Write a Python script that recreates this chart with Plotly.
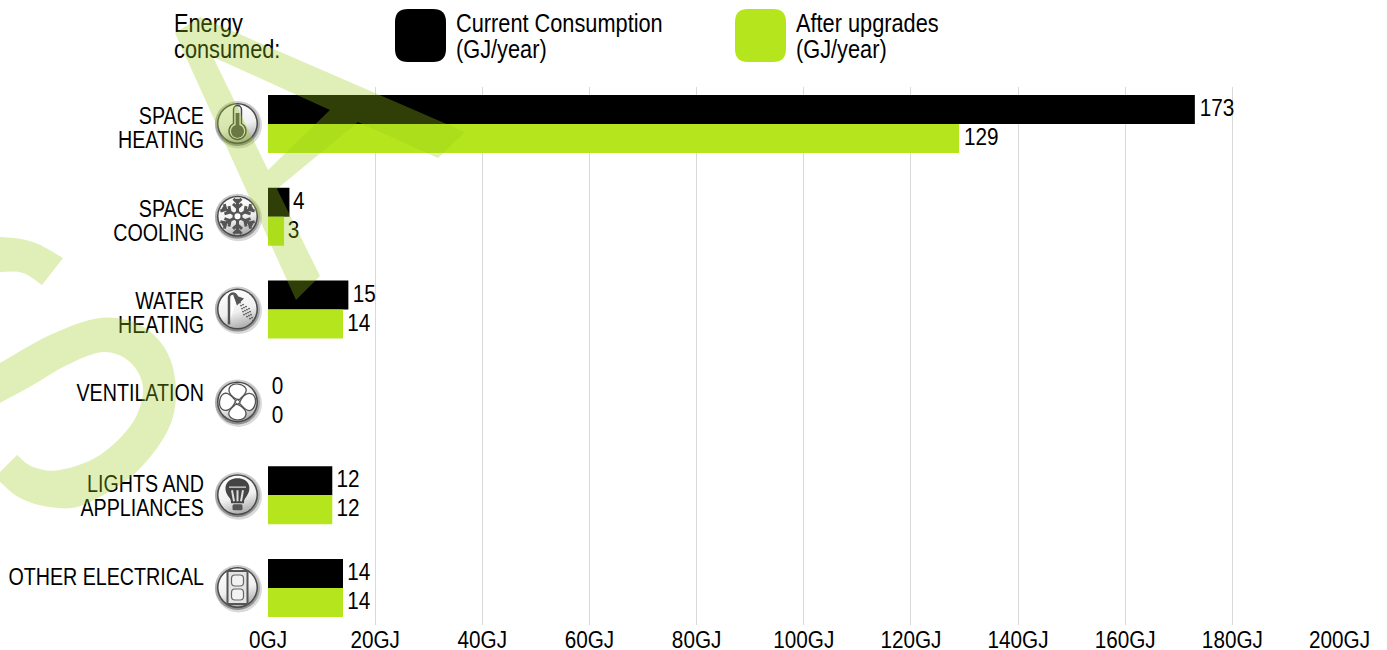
import base64
import plotly.graph_objects as go

# ---------- data ----------
categories = [["SPACE", "HEATING"], ["SPACE", "COOLING"], ["WATER", "HEATING"],
              ["VENTILATION"], ["LIGHTS AND", "APPLIANCES"], ["OTHER ELECTRICAL"]]
current = [173, 4, 15, 0, 12, 14]
upgraded = [129, 3, 14, 0, 12, 14]
series_names = ["Current Consumption", "After upgrades"]
x_ticks = list(range(0, 201, 20))
x_tick_labels = [f"{v}GJ" for v in x_ticks]

W, H = 1387, 650
PLOT_L, PLOT_R, PLOT_T, PLOT_B = 268, 1339.5, 87, 625
CAT_TOP, CAT_STEP = 124, 92.8
FONT = "Liberation Sans, Arial, sans-serif"
BLACK, LIME = "#000000", "#b5e61d"
WM = "rgba(155,203,26,0.31)"
label_shift_px = [4, 3.7, 3.4, -9, 0.6, -11]

ypos = list(range(len(categories)))
y_tickvals, y_ticktext = [], []
line_gap = 24 / CAT_STEP
for i, lines in enumerate(categories):
    offs = [-0.5, 0.5] if len(lines) == 2 else [0]
    for o, t in zip(offs, lines):
        y_tickvals.append(i + o * line_gap + label_shift_px[i] / CAT_STEP)
        y_ticktext.append(t)

fig = go.Figure()
for name, vals, col in [(series_names[0], current, BLACK), (series_names[1], upgraded, LIME)]:
    fig.add_bar(y=ypos, x=vals, orientation="h", name=name, marker=dict(color=col, line_width=0),
                text=[str(v) for v in vals], textposition="outside", cliponaxis=False,
                textfont=dict(family=FONT, size=23, color="#000"), showlegend=False, hoverinfo="skip")

# legend text in a full-page pixel subplot, so the watermark sits over it
leg_x = [174, 174, 456, 456, 796, 796]
leg_y = [26, 52, 26, 52, 26, 52]
leg_t = ["Energy", "consumed:", series_names[0], "(GJ/year)", series_names[1], "(GJ/year)"]
fig.add_scatter(x=leg_x, y=leg_y, text=leg_t, mode="text", textposition="middle right",
                textfont=dict(family=FONT, size=25, color="#000"), xaxis="x2", yaxis="y2",
                cliponaxis=False, showlegend=False, hoverinfo="skip")

fig.update_layout(
    width=W, height=H, autosize=False, margin=dict(l=0, r=0, t=0, b=0),
    paper_bgcolor="white", plot_bgcolor="rgba(0,0,0,0)", barmode="group", bargap=0.375, bargroupgap=0,
    xaxis=dict(domain=[PLOT_L / W, PLOT_R / W], range=[0, 200], tickvals=x_ticks, ticktext=x_tick_labels,
               showgrid=True, gridcolor="#d9d9d9", gridwidth=1, zeroline=False, ticks="", showline=False,
               tickfont=dict(family=FONT, size=23, color="#000"), automargin=False, ticklabelstandoff=0),
    yaxis=dict(domain=[1 - PLOT_B / H, 1 - PLOT_T / H],
               range=[(PLOT_B - CAT_TOP) / CAT_STEP, (PLOT_T - CAT_TOP) / CAT_STEP],
               tickvals=y_tickvals, ticktext=y_ticktext, showgrid=False, zeroline=False, ticks="",
               tickfont=dict(family=FONT, size=23, color="#000"), automargin=False, ticklabelstandoff=63,
               showline=False),
    xaxis2=dict(domain=[0, 1], range=[0, W], visible=False, anchor="y2"),
    yaxis2=dict(domain=[0, 1], range=[H, 0], visible=False, anchor="x2"),
)

def px(x, y):
    return f"{x / W:.5f},{1 - y / H:.5f}"

def path(cmds):
    out = []
    for c in cmds:
        out.append(c[0] + " ".join(px(c[i], c[i + 1]) for i in range(1, len(c), 2)))
    return " ".join(out) + " Z"

def smooth(pts, t=1 / 6):
    """Open Catmull-Rom curve through outline points of the watermark."""
    cmds = [("M",) + pts[0]]
    for i in range(len(pts) - 1):
        p0, p1, p2, p3 = pts[max(i - 1, 0)], pts[i], pts[i + 1], pts[min(i + 2, len(pts) - 1)]
        cmds.append(("C", p1[0] + (p2[0] - p0[0]) * t, p1[1] + (p2[1] - p0[1]) * t,
                     p2[0] - (p3[0] - p1[0]) * t, p2[1] - (p3[1] - p1[1]) * t, p2[0], p2[1]))
    return cmds

def closed_two(outer, inner):
    a = smooth(outer)
    b = smooth(inner)
    b[0] = ("L",) + b[0][1:]
    return a + b

def rrect(x0, y0, x1, y1, r):
    return path([("M", x0 + r, y0), ("L", x1 - r, y0), ("Q", x1, y0, x1, y0 + r), ("L", x1, y1 - r),
                 ("Q", x1, y1, x1 - r, y1), ("L", x0 + r, y1), ("Q", x0, y1, x0, y1 - r), ("L", x0, y0 + r),
                 ("Q", x0, y0, x0 + r, y0)])

shapes = []
for x0, col in [(395, BLACK), (735, LIME)]:
    shapes.append(dict(type="path", xref="paper", yref="paper", path=rrect(x0, 9, x0 + 51, 62, 13),
                       fillcolor=col, line_width=0))

# watermark
a_outer = [("M", 175, 33), ("L", 200, 17), ("L", 465, 132), ("L", 438, 158), ("L", 358, 122), ("L", 277, 189),
           ("L", 320, 276), ("L", 296, 300)]
a_inner = [("M", 213, 57), ("L", 268, 170), ("L", 330, 110)]
s_top = closed_two([(-30, 240), (0, 237), (33, 242), (63, 258)], [(42, 285), (23, 273), (0, 272), (-30, 275)])
s_main = closed_two(
    [(-30, 380), (0, 363), (50, 335), (100, 318), (140, 325), (167, 352), (176, 392), (167, 432), (133, 475),
     (83, 505), (50, 507), (20, 498), (0, 482), (-6, 478)],
    [(17, 455), (33, 467), (60, 470), (100, 455), (133, 422), (143, 388), (130, 362), (103, 352), (67, 365),
     (33, 385), (0, 403), (-30, 420)])
wm_path = " ".join(path(p) for p in [a_outer, a_inner, s_top, s_main])
shapes.append(dict(type="path", xref="paper", yref="paper", path=wm_path, fillcolor=WM, line_width=0, layer="above"))
fig.update_layout(shapes=shapes)

# icons
GLYPH = "#555555"
glyphs = [
    # thermometer
    f'<path d="M24.5 14.5 a4 4 0 0 1 8 0 V28.5 a8.5 8.5 0 1 1 -8 0 Z" fill="#e8e8e8" stroke="#444" stroke-width="1.4"/>'
    f'<path d="M26.6 18 H30.4 V30 a6.6 6.6 0 1 1 -3.8 0 Z" fill="{GLYPH}"/>',
    # snowflake
    "".join(f'<g transform="rotate({a} 28.5 28.5)"><path d="M28.5 28.5V11 M28.5 15 L24.5 11 M28.5 15 L32.5 11 '
            f'M28.5 20 L24 16 M28.5 20 L33 16" stroke="{GLYPH}" stroke-width="3" fill="none"/></g>'
            for a in range(0, 360, 60)) + '<circle cx="28.5" cy="28.5" r="4" fill="#fff" stroke="#555" stroke-width="2"/>',
    # shower
    f'<path d="M20 44 V17 a4 4 0 0 1 8 0" stroke="{GLYPH}" stroke-width="2.5" fill="#fff"/>'
    f'<path d="M24 14 L35 18 L28 25 Z" fill="{GLYPH}"/>'
    + "".join(f'<circle cx="{31 + i * 3 + j * 1}" cy="{22 + j * 3 + i * 2}" r="0.9" fill="{GLYPH}"/>'
              for i in range(4) for j in range(5)),
    # fan
    "".join(f'<g transform="rotate({a} 28.5 28.5)"><path d="M27.5 26 C20 24 16 19 19 14 C23 9 33 10 35 15 '
            f'C36 20 31 23 30 26 Z" fill="#fff" stroke="#555" stroke-width="1.3"/></g>' for a in (10, 100, 190, 280))
    + '<circle cx="28.5" cy="28.5" r="2" fill="#fff" stroke="#555"/>',
    # bulb
    f'<path d="M20 31 C13 22 17 12 28.5 12 C40 12 44 22 37 31 C35 33 35 35 35 37 H22 C22 35 22 33 20 31 Z" fill="#444"/>'
    '<path d="M20 21 H37" stroke="#ddd" stroke-width="1.2"/>'
    '<path d="M23 24 L25 35 M28.5 24 V35 M34 24 L32 35" stroke="#ddd" stroke-width="2" fill="none"/>'
    f'<rect x="23.5" y="38" width="10" height="6" rx="1.5" fill="{GLYPH}"/>',
    # outlet
    f'<rect x="18.5" y="12" width="20" height="33" fill="#e4e4e4" stroke="{GLYPH}" stroke-width="2"/>'
    '<rect x="22.5" y="16" width="12" height="11" rx="3.5" fill="#f2f2f2" stroke="#666" stroke-width="1.2"/>'
    '<rect x="22.5" y="30" width="12" height="11" rx="3.5" fill="#f2f2f2" stroke="#666" stroke-width="1.2"/>',
]

def icon(g):
    svg = ('<svg xmlns="http://www.w3.org/2000/svg" width="57" height="57" viewBox="0 0 57 57"><defs>'
           '<linearGradient id="r" x1="0" y1="0" x2="0" y2="1"><stop offset="0" stop-color="#d0d0d0"/>'
           '<stop offset="1" stop-color="#8a8a8a"/></linearGradient>'
           '<linearGradient id="f" x1="0.2" y1="0" x2="0.5" y2="1"><stop offset="0" stop-color="#ffffff"/>'
           '<stop offset="0.6" stop-color="#f0f0f0"/><stop offset="1" stop-color="#b0b0b0"/></linearGradient></defs>'
           '<circle cx="29.5" cy="30" r="23.5" fill="#000" opacity="0.15"/>'
           '<circle cx="28.5" cy="28.5" r="22.5" fill="url(#r)"/>'
           '<circle cx="28.5" cy="28.5" r="20.5" fill="#4a4a4a"/>'
           '<circle cx="28.5" cy="28.5" r="19" fill="url(#f)"/>' + g + '</svg>')
    return "data:image/svg+xml;base64," + base64.b64encode(svg.encode()).decode()

images = []
for i, g in enumerate(glyphs):
    cy = CAT_TOP + i * CAT_STEP - 0.5
    images.append(dict(source=icon(g), xref="paper", yref="paper", x=(237.5 - 28.5) / W, y=1 - (cy - 28.5) / H,
                       sizex=57 / W, sizey=57 / H, xanchor="left", yanchor="top", layer="above", sizing="stretch"))
fig.update_layout(images=images)

# the reference uses a narrow face; no narrow font is installed, so condense the real text
post = """
document.body.style.margin = '0';
function condense() {
  [['.xtick text', 0.90, '-1'], ['.ytick text', 0.855, '0'], ['.bartext', 0.90, '-1.5'], ['.textpoint text', 0.87, '0']].forEach(function (s) {
    document.querySelectorAll(s[0]).forEach(function (t) {
      if (t.getAttribute('textLength')) return;
      t.setAttribute('textLength', t.getComputedTextLength() * s[1]);
      t.setAttribute('lengthAdjust', 'spacingAndGlyphs');
      t.setAttribute('dy', s[2]);
    });
  });
}
condense();
setTimeout(condense, 100);
setTimeout(condense, 500);
"""
fig.write_html("out.html", post_script=post, config={"displayModeBar": False})
